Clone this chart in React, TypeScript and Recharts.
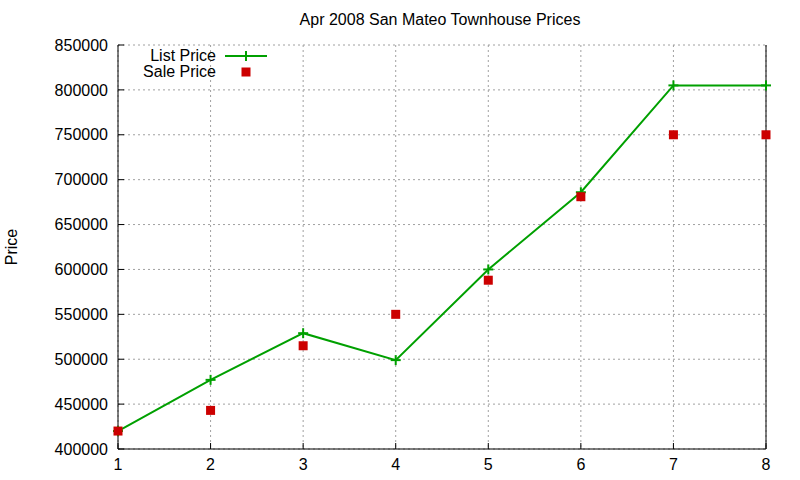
import React from 'react';
import {
  LineChart,
  Line,
  XAxis,
  YAxis,
  CartesianGrid,
  Legend,
  Label,
} from 'recharts';

const months = [1, 2, 3, 4, 5, 6, 7, 8];
const listPrice = [420000, 477000, 529000, 499000, 600000, 686000, 805000, 805000];
const salePrice = [420000, 443000, 515000, 550000, 588000, 681000, 750000, 750000];
const yTicks = [400000, 450000, 500000, 550000, 600000, 650000, 700000, 750000, 800000, 850000];

const data = months.map((m, i) => ({ month: m, list: listPrice[i], sale: salePrice[i] }));

const FONT = '"Liberation Sans", Arial, sans-serif';
const GREEN = '#00a000';
const RED = '#cc0000';

const PlusDot = (props: any) => {
  const { cx, cy } = props;
  if (cx == null || cy == null) return null;
  return (
    <g stroke={GREEN} strokeWidth={2}>
      <line x1={cx - 5} y1={cy} x2={cx + 5} y2={cy} />
      <line x1={cx} y1={cy - 5} x2={cx} y2={cy + 5} />
    </g>
  );
};

const SquareDot = (props: any) => {
  const { cx, cy } = props;
  if (cx == null || cy == null) return null;
  return <rect x={cx - 4.5} y={cy - 4.5} width={9} height={9} fill={RED} />;
};

// gnuplot-style key: text right-aligned, sample to its right
const renderLegend = () => (
  <svg width={160} height={40} style={{ fontFamily: FONT, fontSize: 16, display: 'block' }}>
    <text x={106} y={14} textAnchor="end" fill="#000">List Price</text>
    <line x1={115} y1={9} x2={157} y2={9} stroke={GREEN} strokeWidth={2} />
    <line x1={136} y1={4} x2={136} y2={14} stroke={GREEN} strokeWidth={2} />
    <text x={106} y={30} textAnchor="end" fill="#000">Sale Price</text>
    <rect x={131.5} y={20.5} width={9} height={9} fill={RED} />
  </svg>
);

export default function App() {
  return (
    <div style={{ position: 'absolute', left: 0, top: 0, width: 800, height: 480, background: '#fff' }}>
      <div
        style={{
          position: 'absolute',
          left: 118,
          width: 644,
          top: 11,
          textAlign: 'center',
          fontFamily: FONT,
          fontSize: 16,
          color: '#000',
        }}
      >
        Apr 2008 San Mateo Townhouse Prices
      </div>
      <LineChart
        width={800}
        height={480}
        data={data}
        margin={{ top: 45, right: 0, bottom: 0, left: 0 }}
      >
        <CartesianGrid stroke="#a0a0a0" strokeDasharray="2 3" />
        <XAxis
          dataKey="month"
          type="number"
          domain={[1, 8]}
          ticks={months}
          height={31}
          stroke="#000"
          tickSize={-6}
          tickMargin={16}
          tick={{ fill: '#000', fontSize: 16, fontFamily: FONT }}
        />
        <XAxis
          xAxisId="top"
          dataKey="month"
          type="number"
          orientation="top"
          domain={[1, 8]}
          ticks={months}
          height={0}
          stroke="#000"
          tickSize={-6}
          tickFormatter={() => ''}
        />
        <YAxis
          type="number"
          domain={[400000, 850000]}
          ticks={yTicks}
          width={118}
          stroke="#000"
          tickSize={-6}
          tickMargin={16}
          tick={{ fill: '#000', fontSize: 16, fontFamily: FONT }}
          interval={0}
        >
          <Label
            content={(p: any) => (
              <text
                x={17}
                y={p.viewBox.y + p.viewBox.height / 2}
                transform={`rotate(-90 17 ${p.viewBox.y + p.viewBox.height / 2})`}
                textAnchor="middle"
                fontFamily={FONT}
                fontSize={16}
                fill="#000"
              >
                Price
              </text>
            )}
          />
        </YAxis>
        <YAxis
          yAxisId="right"
          orientation="right"
          type="number"
          domain={[400000, 850000]}
          ticks={yTicks}
          width={34}
          stroke="#000"
          tickSize={-6}
          tickFormatter={() => ''}
          interval={0}
        />
        <Legend
          content={renderLegend}
          layout="horizontal"
          verticalAlign="middle"
          align="center"
          wrapperStyle={{ left: 110, top: 47, width: 160 }}
        />
        <Line
          dataKey="list"
          name="List Price"
          stroke={GREEN}
          strokeWidth={2}
          dot={<PlusDot />}
          activeDot={false}
          isAnimationActive={false}
        />
        <Line
          dataKey="sale"
          name="Sale Price"
          stroke="none"
          strokeWidth={0}
          dot={<SquareDot />}
          activeDot={false}
          isAnimationActive={false}
        />
      </LineChart>
    </div>
  );
}
